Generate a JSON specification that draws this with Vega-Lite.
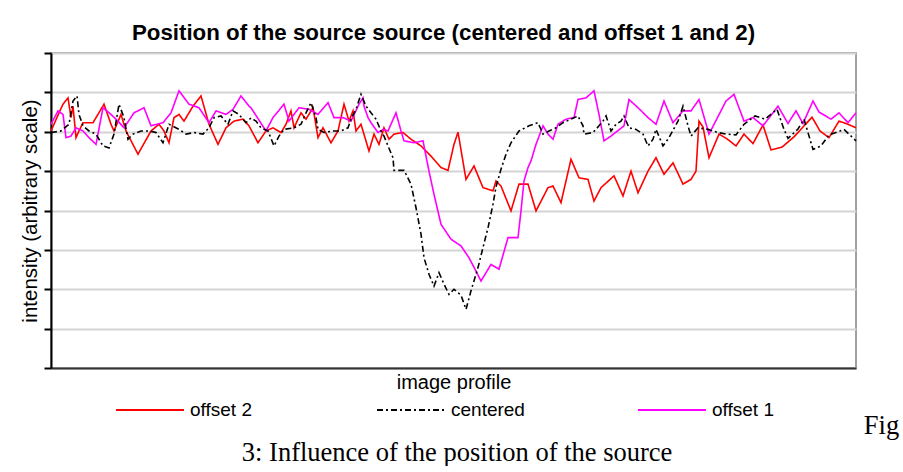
{
  "$schema": "https://vega.github.io/schema/vega-lite/v6.json",
  "padding": {"left": 19, "top": 20, "right": 0, "bottom": 0},
  "background": "white",
  "config": {
    "view": {"stroke": null},
    "concat": {"spacing": 0},
    "font": "Liberation Sans",
    "legend": {
      "orient": "none",
      "legendX": 64,
      "legendY": 322,
      "direction": "horizontal",
      "columns": 3,
      "gridAlign": "all",
      "columnPadding": 109,
      "symbolType": "stroke",
      "symbolSize": 4624,
      "symbolStrokeWidth": 2,
      "labelFontSize": 19,
      "labelFont": "Liberation Sans",
      "labelColor": "black",
      "labelOffset": 5,
      "padding": 0,
      "title": null
    }
  },
  "title": {
    "text": "3: Influence of the position of the source",
    "orient": "bottom",
    "anchor": "middle",
    "font": "Liberation Serif",
    "fontSize": 26.5,
    "fontWeight": "normal",
    "color": "black",
    "offset": 0,
    "dx": -2
  },
  "vconcat": [
    {
      "title": {
        "text": "Fig",
        "orient": "bottom",
        "anchor": "end",
        "font": "Liberation Serif",
        "fontSize": 26.5,
        "fontWeight": "normal",
        "color": "black",
        "dx": 39,
        "offset": 20
      },
      "vconcat": [
        {
          "width": 805,
          "height": 315,
          "title": {
            "text": "Position of the source source (centered and offset 1 and 2)",
            "font": "Liberation Sans",
            "fontSize": 22.3,
            "fontWeight": "bold",
            "color": "black",
            "offset": 8,
            "dx": -10
          },
          "view": {"stroke": "#a0a0a0", "strokeWidth": 2},
          "data": {
            "values": [
              {"series": "offset 2", "x": 0, "y": 6.02}, {"series": "offset 2", "x": 8, "y": 6.48}, {"series": "offset 2", "x": 12, "y": 6.70}, {"series": "offset 2", "x": 17, "y": 6.86}, {"series": "offset 2", "x": 20, "y": 6.36}, {"series": "offset 2", "x": 22, "y": 6.65}, {"series": "offset 2", "x": 25, "y": 5.85}, {"series": "offset 2", "x": 28, "y": 6.02}, {"series": "offset 2", "x": 32, "y": 6.23}, {"series": "offset 2", "x": 42, "y": 6.23}, {"series": "offset 2", "x": 53, "y": 6.70}, {"series": "offset 2", "x": 60, "y": 6.19}, {"series": "offset 2", "x": 63, "y": 6.02}, {"series": "offset 2", "x": 70, "y": 6.44}, {"series": "offset 2", "x": 75, "y": 6.02}, {"series": "offset 2", "x": 87, "y": 5.43}, {"series": "offset 2", "x": 100, "y": 6.02}, {"series": "offset 2", "x": 108, "y": 6.19}, {"series": "offset 2", "x": 113, "y": 6.02}, {"series": "offset 2", "x": 118, "y": 5.72}, {"series": "offset 2", "x": 123, "y": 6.36}, {"series": "offset 2", "x": 128, "y": 6.44}, {"series": "offset 2", "x": 133, "y": 6.27}, {"series": "offset 2", "x": 142, "y": 6.65}, {"series": "offset 2", "x": 150, "y": 6.91}, {"series": "offset 2", "x": 158, "y": 6.19}, {"series": "offset 2", "x": 167, "y": 5.68}, {"series": "offset 2", "x": 175, "y": 6.10}, {"series": "offset 2", "x": 183, "y": 6.27}, {"series": "offset 2", "x": 192, "y": 6.32}, {"series": "offset 2", "x": 198, "y": 6.15}, {"series": "offset 2", "x": 207, "y": 5.72}, {"series": "offset 2", "x": 215, "y": 6.02}, {"series": "offset 2", "x": 222, "y": 6.10}, {"series": "offset 2", "x": 230, "y": 5.98}, {"series": "offset 2", "x": 235, "y": 6.19}, {"series": "offset 2", "x": 240, "y": 6.53}, {"series": "offset 2", "x": 243, "y": 6.10}, {"series": "offset 2", "x": 250, "y": 6.48}, {"series": "offset 2", "x": 255, "y": 6.32}, {"series": "offset 2", "x": 262, "y": 6.61}, {"series": "offset 2", "x": 267, "y": 5.85}, {"series": "offset 2", "x": 272, "y": 6.10}, {"series": "offset 2", "x": 280, "y": 5.72}, {"series": "offset 2", "x": 287, "y": 6.02}, {"series": "offset 2", "x": 293, "y": 6.70}, {"series": "offset 2", "x": 298, "y": 6.27}, {"series": "offset 2", "x": 302, "y": 6.53}, {"series": "offset 2", "x": 305, "y": 6.02}, {"series": "offset 2", "x": 310, "y": 6.19}, {"series": "offset 2", "x": 318, "y": 5.51}, {"series": "offset 2", "x": 323, "y": 5.94}, {"series": "offset 2", "x": 328, "y": 5.68}, {"series": "offset 2", "x": 333, "y": 6.10}, {"series": "offset 2", "x": 338, "y": 5.81}, {"series": "offset 2", "x": 343, "y": 5.94}, {"series": "offset 2", "x": 352, "y": 5.98}, {"series": "offset 2", "x": 360, "y": 5.81}, {"series": "offset 2", "x": 370, "y": 5.64}, {"series": "offset 2", "x": 380, "y": 5.38}, {"series": "offset 2", "x": 390, "y": 5.09}, {"series": "offset 2", "x": 397, "y": 5.02}, {"series": "offset 2", "x": 403, "y": 5.68}, {"series": "offset 2", "x": 407, "y": 5.99}, {"series": "offset 2", "x": 415, "y": 4.79}, {"series": "offset 2", "x": 423, "y": 5.13}, {"series": "offset 2", "x": 432, "y": 4.58}, {"series": "offset 2", "x": 442, "y": 4.50}, {"series": "offset 2", "x": 445, "y": 4.75}, {"series": "offset 2", "x": 450, "y": 4.62}, {"series": "offset 2", "x": 460, "y": 3.99}, {"series": "offset 2", "x": 468, "y": 4.67}, {"series": "offset 2", "x": 477, "y": 4.67}, {"series": "offset 2", "x": 485, "y": 3.99}, {"series": "offset 2", "x": 497, "y": 4.58}, {"series": "offset 2", "x": 502, "y": 4.62}, {"series": "offset 2", "x": 510, "y": 4.20}, {"series": "offset 2", "x": 520, "y": 5.30}, {"series": "offset 2", "x": 528, "y": 4.83}, {"series": "offset 2", "x": 537, "y": 4.79}, {"series": "offset 2", "x": 543, "y": 4.24}, {"series": "offset 2", "x": 550, "y": 4.58}, {"series": "offset 2", "x": 563, "y": 4.88}, {"series": "offset 2", "x": 572, "y": 4.37}, {"series": "offset 2", "x": 580, "y": 5.00}, {"series": "offset 2", "x": 587, "y": 4.45}, {"series": "offset 2", "x": 597, "y": 5.00}, {"series": "offset 2", "x": 605, "y": 5.34}, {"series": "offset 2", "x": 613, "y": 4.92}, {"series": "offset 2", "x": 622, "y": 5.21}, {"series": "offset 2", "x": 632, "y": 4.67}, {"series": "offset 2", "x": 640, "y": 4.79}, {"series": "offset 2", "x": 645, "y": 5.00}, {"series": "offset 2", "x": 648, "y": 6.27}, {"series": "offset 2", "x": 652, "y": 6.12}, {"series": "offset 2", "x": 658, "y": 5.34}, {"series": "offset 2", "x": 668, "y": 5.94}, {"series": "offset 2", "x": 676, "y": 5.82}, {"series": "offset 2", "x": 685, "y": 5.64}, {"series": "offset 2", "x": 693, "y": 5.94}, {"series": "offset 2", "x": 702, "y": 5.70}, {"series": "offset 2", "x": 712, "y": 6.17}, {"series": "offset 2", "x": 720, "y": 5.54}, {"series": "offset 2", "x": 731, "y": 5.61}, {"series": "offset 2", "x": 743, "y": 5.87}, {"series": "offset 2", "x": 761, "y": 6.37}, {"series": "offset 2", "x": 769, "y": 6.02}, {"series": "offset 2", "x": 778, "y": 5.85}, {"series": "offset 2", "x": 788, "y": 6.27}, {"series": "offset 2", "x": 797, "y": 6.19}, {"series": "offset 2", "x": 805, "y": 6.10},
              {"series": "offset 1", "x": 0, "y": 6.19}, {"series": "offset 1", "x": 7, "y": 6.53}, {"series": "offset 1", "x": 12, "y": 6.44}, {"series": "offset 1", "x": 15, "y": 5.85}, {"series": "offset 1", "x": 20, "y": 5.89}, {"series": "offset 1", "x": 25, "y": 6.10}, {"series": "offset 1", "x": 32, "y": 6.02}, {"series": "offset 1", "x": 38, "y": 5.85}, {"series": "offset 1", "x": 45, "y": 5.68}, {"series": "offset 1", "x": 52, "y": 6.61}, {"series": "offset 1", "x": 60, "y": 6.44}, {"series": "offset 1", "x": 67, "y": 6.27}, {"series": "offset 1", "x": 73, "y": 6.10}, {"series": "offset 1", "x": 83, "y": 6.48}, {"series": "offset 1", "x": 93, "y": 6.61}, {"series": "offset 1", "x": 100, "y": 6.15}, {"series": "offset 1", "x": 112, "y": 6.23}, {"series": "offset 1", "x": 120, "y": 6.48}, {"series": "offset 1", "x": 128, "y": 7.04}, {"series": "offset 1", "x": 138, "y": 6.70}, {"series": "offset 1", "x": 148, "y": 6.61}, {"series": "offset 1", "x": 158, "y": 6.23}, {"series": "offset 1", "x": 165, "y": 6.53}, {"series": "offset 1", "x": 175, "y": 6.44}, {"series": "offset 1", "x": 182, "y": 6.57}, {"series": "offset 1", "x": 190, "y": 6.91}, {"series": "offset 1", "x": 198, "y": 6.65}, {"series": "offset 1", "x": 200, "y": 6.61}, {"series": "offset 1", "x": 215, "y": 6.02}, {"series": "offset 1", "x": 222, "y": 6.36}, {"series": "offset 1", "x": 233, "y": 6.70}, {"series": "offset 1", "x": 238, "y": 6.27}, {"series": "offset 1", "x": 248, "y": 6.61}, {"series": "offset 1", "x": 258, "y": 6.57}, {"series": "offset 1", "x": 267, "y": 6.44}, {"series": "offset 1", "x": 277, "y": 6.74}, {"series": "offset 1", "x": 283, "y": 6.36}, {"series": "offset 1", "x": 292, "y": 6.36}, {"series": "offset 1", "x": 300, "y": 6.27}, {"series": "offset 1", "x": 308, "y": 6.70}, {"series": "offset 1", "x": 312, "y": 6.86}, {"series": "offset 1", "x": 313, "y": 6.65}, {"series": "offset 1", "x": 317, "y": 6.36}, {"series": "offset 1", "x": 320, "y": 6.23}, {"series": "offset 1", "x": 327, "y": 5.98}, {"series": "offset 1", "x": 332, "y": 6.06}, {"series": "offset 1", "x": 337, "y": 6.02}, {"series": "offset 1", "x": 345, "y": 6.48}, {"series": "offset 1", "x": 350, "y": 6.02}, {"series": "offset 1", "x": 353, "y": 5.77}, {"series": "offset 1", "x": 363, "y": 5.72}, {"series": "offset 1", "x": 372, "y": 5.77}, {"series": "offset 1", "x": 375, "y": 5.38}, {"series": "offset 1", "x": 378, "y": 5.00}, {"series": "offset 1", "x": 383, "y": 4.41}, {"series": "offset 1", "x": 390, "y": 3.65}, {"series": "offset 1", "x": 400, "y": 3.27}, {"series": "offset 1", "x": 410, "y": 3.10}, {"series": "offset 1", "x": 418, "y": 2.80}, {"series": "offset 1", "x": 425, "y": 2.46}, {"series": "offset 1", "x": 430, "y": 2.21}, {"series": "offset 1", "x": 440, "y": 2.63}, {"series": "offset 1", "x": 448, "y": 2.51}, {"series": "offset 1", "x": 457, "y": 3.31}, {"series": "offset 1", "x": 467, "y": 3.31}, {"series": "offset 1", "x": 470, "y": 3.99}, {"series": "offset 1", "x": 473, "y": 4.75}, {"series": "offset 1", "x": 477, "y": 5.09}, {"series": "offset 1", "x": 480, "y": 5.26}, {"series": "offset 1", "x": 485, "y": 5.68}, {"series": "offset 1", "x": 492, "y": 6.15}, {"series": "offset 1", "x": 497, "y": 5.94}, {"series": "offset 1", "x": 502, "y": 5.81}, {"series": "offset 1", "x": 507, "y": 6.19}, {"series": "offset 1", "x": 515, "y": 6.32}, {"series": "offset 1", "x": 523, "y": 6.36}, {"series": "offset 1", "x": 527, "y": 6.82}, {"series": "offset 1", "x": 535, "y": 6.86}, {"series": "offset 1", "x": 543, "y": 7.04}, {"series": "offset 1", "x": 548, "y": 6.44}, {"series": "offset 1", "x": 553, "y": 5.77}, {"series": "offset 1", "x": 560, "y": 5.89}, {"series": "offset 1", "x": 573, "y": 6.15}, {"series": "offset 1", "x": 578, "y": 6.82}, {"series": "offset 1", "x": 587, "y": 6.61}, {"series": "offset 1", "x": 597, "y": 6.36}, {"series": "offset 1", "x": 605, "y": 6.19}, {"series": "offset 1", "x": 613, "y": 6.78}, {"series": "offset 1", "x": 622, "y": 6.23}, {"series": "offset 1", "x": 632, "y": 6.53}, {"series": "offset 1", "x": 640, "y": 6.53}, {"series": "offset 1", "x": 648, "y": 6.82}, {"series": "offset 1", "x": 658, "y": 5.94}, {"series": "offset 1", "x": 675, "y": 6.78}, {"series": "offset 1", "x": 683, "y": 6.95}, {"series": "offset 1", "x": 693, "y": 6.27}, {"series": "offset 1", "x": 702, "y": 6.36}, {"series": "offset 1", "x": 712, "y": 6.15}, {"series": "offset 1", "x": 727, "y": 6.65}, {"series": "offset 1", "x": 737, "y": 6.21}, {"series": "offset 1", "x": 745, "y": 6.53}, {"series": "offset 1", "x": 752, "y": 6.21}, {"series": "offset 1", "x": 762, "y": 6.78}, {"series": "offset 1", "x": 768, "y": 6.50}, {"series": "offset 1", "x": 780, "y": 6.32}, {"series": "offset 1", "x": 788, "y": 6.48}, {"series": "offset 1", "x": 797, "y": 6.23}, {"series": "offset 1", "x": 805, "y": 6.48},
              {"series": "centered", "x": 0, "y": 5.98}, {"series": "centered", "x": 10, "y": 6.02}, {"series": "centered", "x": 18, "y": 6.19}, {"series": "centered", "x": 22, "y": 6.78}, {"series": "centered", "x": 26, "y": 6.91}, {"series": "centered", "x": 28, "y": 6.44}, {"series": "centered", "x": 32, "y": 6.15}, {"series": "centered", "x": 38, "y": 6.02}, {"series": "centered", "x": 45, "y": 5.94}, {"series": "centered", "x": 52, "y": 5.64}, {"series": "centered", "x": 58, "y": 5.59}, {"series": "centered", "x": 63, "y": 5.94}, {"series": "centered", "x": 68, "y": 6.70}, {"series": "centered", "x": 73, "y": 6.36}, {"series": "centered", "x": 77, "y": 5.81}, {"series": "centered", "x": 82, "y": 5.94}, {"series": "centered", "x": 90, "y": 6.02}, {"series": "centered", "x": 98, "y": 6.02}, {"series": "centered", "x": 105, "y": 5.98}, {"series": "centered", "x": 112, "y": 5.72}, {"series": "centered", "x": 118, "y": 6.19}, {"series": "centered", "x": 128, "y": 6.06}, {"series": "centered", "x": 135, "y": 5.94}, {"series": "centered", "x": 143, "y": 5.98}, {"series": "centered", "x": 152, "y": 5.94}, {"series": "centered", "x": 158, "y": 6.10}, {"series": "centered", "x": 163, "y": 6.36}, {"series": "centered", "x": 170, "y": 6.40}, {"series": "centered", "x": 177, "y": 6.19}, {"series": "centered", "x": 182, "y": 6.53}, {"series": "centered", "x": 188, "y": 6.44}, {"series": "centered", "x": 195, "y": 6.23}, {"series": "centered", "x": 200, "y": 6.35}, {"series": "centered", "x": 205, "y": 6.27}, {"series": "centered", "x": 210, "y": 6.10}, {"series": "centered", "x": 217, "y": 6.02}, {"series": "centered", "x": 223, "y": 5.64}, {"series": "centered", "x": 228, "y": 5.89}, {"series": "centered", "x": 233, "y": 6.06}, {"series": "centered", "x": 243, "y": 6.10}, {"series": "centered", "x": 250, "y": 6.19}, {"series": "centered", "x": 255, "y": 6.48}, {"series": "centered", "x": 260, "y": 6.74}, {"series": "centered", "x": 265, "y": 6.36}, {"series": "centered", "x": 267, "y": 6.06}, {"series": "centered", "x": 273, "y": 5.98}, {"series": "centered", "x": 282, "y": 6.02}, {"series": "centered", "x": 290, "y": 6.02}, {"series": "centered", "x": 297, "y": 6.10}, {"series": "centered", "x": 300, "y": 6.32}, {"series": "centered", "x": 305, "y": 6.57}, {"series": "centered", "x": 310, "y": 6.95}, {"series": "centered", "x": 315, "y": 6.65}, {"series": "centered", "x": 320, "y": 6.48}, {"series": "centered", "x": 325, "y": 6.32}, {"series": "centered", "x": 330, "y": 6.02}, {"series": "centered", "x": 333, "y": 5.89}, {"series": "centered", "x": 337, "y": 5.64}, {"series": "centered", "x": 342, "y": 5.34}, {"series": "centered", "x": 343, "y": 5.02}, {"series": "centered", "x": 353, "y": 5.02}, {"series": "centered", "x": 360, "y": 4.67}, {"series": "centered", "x": 365, "y": 4.07}, {"series": "centered", "x": 370, "y": 3.40}, {"series": "centered", "x": 373, "y": 2.80}, {"series": "centered", "x": 378, "y": 2.38}, {"series": "centered", "x": 383, "y": 2.08}, {"series": "centered", "x": 388, "y": 2.42}, {"series": "centered", "x": 393, "y": 2.13}, {"series": "centered", "x": 398, "y": 1.87}, {"series": "centered", "x": 403, "y": 2.00}, {"series": "centered", "x": 410, "y": 1.85}, {"series": "centered", "x": 415, "y": 1.49}, {"series": "centered", "x": 420, "y": 1.96}, {"series": "centered", "x": 427, "y": 2.55}, {"series": "centered", "x": 432, "y": 3.06}, {"series": "centered", "x": 437, "y": 3.56}, {"series": "centered", "x": 442, "y": 4.16}, {"series": "centered", "x": 445, "y": 4.60}, {"series": "centered", "x": 450, "y": 5.05}, {"series": "centered", "x": 455, "y": 5.43}, {"series": "centered", "x": 460, "y": 5.72}, {"series": "centered", "x": 468, "y": 6.02}, {"series": "centered", "x": 478, "y": 6.15}, {"series": "centered", "x": 487, "y": 6.23}, {"series": "centered", "x": 492, "y": 5.94}, {"series": "centered", "x": 498, "y": 6.02}, {"series": "centered", "x": 505, "y": 6.10}, {"series": "centered", "x": 512, "y": 6.23}, {"series": "centered", "x": 520, "y": 6.32}, {"series": "centered", "x": 527, "y": 6.40}, {"series": "centered", "x": 532, "y": 6.15}, {"series": "centered", "x": 533, "y": 5.94}, {"series": "centered", "x": 542, "y": 5.98}, {"series": "centered", "x": 548, "y": 6.15}, {"series": "centered", "x": 552, "y": 6.27}, {"series": "centered", "x": 555, "y": 6.40}, {"series": "centered", "x": 560, "y": 6.02}, {"series": "centered", "x": 565, "y": 6.19}, {"series": "centered", "x": 570, "y": 6.27}, {"series": "centered", "x": 573, "y": 6.40}, {"series": "centered", "x": 578, "y": 6.10}, {"series": "centered", "x": 585, "y": 6.06}, {"series": "centered", "x": 592, "y": 5.94}, {"series": "centered", "x": 597, "y": 5.64}, {"series": "centered", "x": 602, "y": 5.81}, {"series": "centered", "x": 605, "y": 6.06}, {"series": "centered", "x": 612, "y": 5.64}, {"series": "centered", "x": 618, "y": 5.85}, {"series": "centered", "x": 627, "y": 6.27}, {"series": "centered", "x": 632, "y": 6.65}, {"series": "centered", "x": 637, "y": 6.15}, {"series": "centered", "x": 640, "y": 5.89}, {"series": "centered", "x": 647, "y": 6.10}, {"series": "centered", "x": 657, "y": 6.06}, {"series": "centered", "x": 667, "y": 5.98}, {"series": "centered", "x": 675, "y": 5.94}, {"series": "centered", "x": 685, "y": 5.92}, {"series": "centered", "x": 693, "y": 6.19}, {"series": "centered", "x": 704, "y": 6.40}, {"series": "centered", "x": 714, "y": 6.32}, {"series": "centered", "x": 726, "y": 6.57}, {"series": "centered", "x": 733, "y": 6.06}, {"series": "centered", "x": 737, "y": 5.83}, {"series": "centered", "x": 747, "y": 6.07}, {"series": "centered", "x": 753, "y": 6.32}, {"series": "centered", "x": 762, "y": 5.55}, {"series": "centered", "x": 770, "y": 5.64}, {"series": "centered", "x": 778, "y": 5.92}, {"series": "centered", "x": 789, "y": 6.02}, {"series": "centered", "x": 793, "y": 6.06}, {"series": "centered", "x": 805, "y": 5.77}
            ]
          },
          "mark": {"type": "line", "strokeWidth": 1.6},
          "encoding": {
            "x": {
              "field": "x",
              "type": "quantitative",
              "scale": {"domain": [0, 805], "nice": false, "zero": false},
              "axis": {
                "title": "image profile",
                "labels": false,
                "ticks": false,
                "grid": false,
                "domainColor": "#333333",
                "domainWidth": 2,
                "titleFont": "Liberation Sans",
                "titleFontSize": 20,
                "titleFontWeight": "normal",
                "titleColor": "black",
                "titlePadding": 4
              }
            },
            "y": {
              "field": "y",
              "type": "quantitative",
              "scale": {"domain": [0, 8], "nice": false},
              "axis": {
                "title": "intensity (arbitrary scale)",
                "values": [0, 1, 2, 3, 4, 5, 6, 7, 8],
                "labels": false,
                "tickSize": 7,
                "tickColor": "black",
                "tickWidth": 2,
                "domainColor": "black",
                "domainWidth": 2,
                "gridColor": "#d4d4d4",
                "gridWidth": 2,
                "titleFont": "Liberation Sans",
                "titleFontSize": 20.5,
                "titleFontWeight": "normal",
                "titleColor": "black",
                "titlePadding": 3
              }
            },
            "color": {
              "field": "series",
              "type": "nominal",
              "scale": {"domain": ["offset 2", "centered", "offset 1"], "range": ["#ff0000", "#000000", "#ff00ff"]}
            },
            "strokeDash": {
              "field": "series",
              "type": "nominal",
              "scale": {"domain": ["offset 2", "centered", "offset 1"], "range": [[1, 0], [6, 3, 2, 3], [1, 0]]}
            }
          }
        }
      ]
    }
  ]
}
